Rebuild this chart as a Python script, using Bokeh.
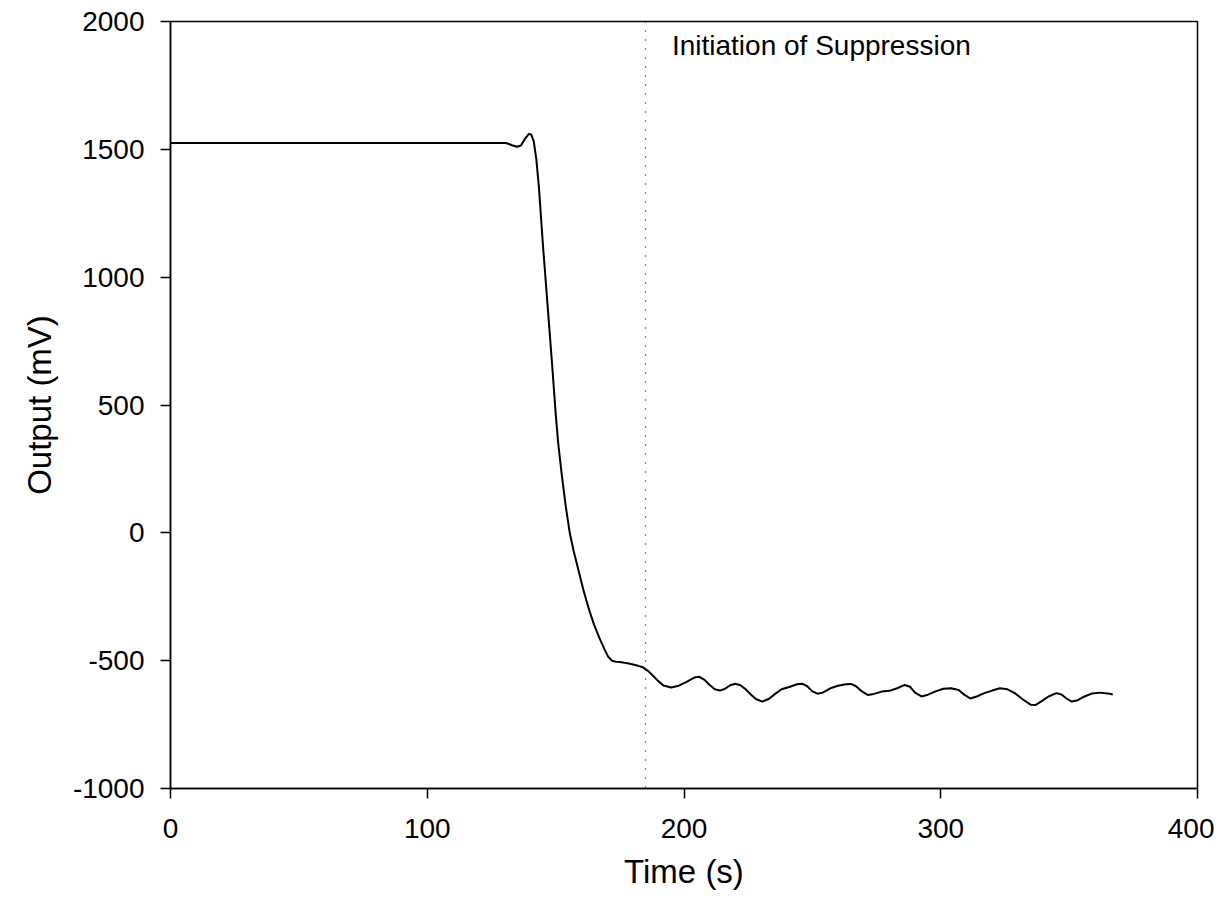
from bokeh.plotting import figure
from bokeh.models import Range1d, FixedTicker, Span, Label, CustomJSTickFormatter
from bokeh.embed import file_html
from bokeh.resources import INLINE

time_s = [0, 40, 80, 120, 130, 131, 133, 135, 136.5, 138, 139.5, 140.5, 141.5, 142.5,
          143.5, 145, 147, 148.5, 150, 151, 152.5, 154, 155.5, 157, 159, 161, 163, 165,
          167, 169, 170.5, 172, 173.5, 175, 178, 181, 184, 186, 188, 190, 192, 195, 198,
          201, 204, 206, 208, 210, 212, 214, 216, 218, 220, 222, 224, 226, 228, 230.5,
          233, 235.5, 238, 241, 244, 246, 248, 250, 252, 254, 257, 260, 263, 265, 267,
          269, 271.5, 274, 277, 280, 283, 286, 288, 290, 292.5, 295, 298, 301, 304, 307,
          309, 311.5, 314, 317, 320, 323, 326, 329, 332, 335, 337, 339, 342, 345, 347,
          349, 351, 353, 356, 359, 362, 365, 367]
output_mv = [1525, 1525, 1525, 1525, 1525, 1524, 1516, 1510, 1515, 1540, 1560, 1558, 1530,
             1460, 1350, 1134, 872, 676, 470, 351, 218, 100, 0, -70, -150, -230, -300,
             -360, -410, -455, -485, -500, -504, -505, -510, -517, -526, -540, -560, -580,
             -597, -605, -598, -583, -566, -563, -575, -595, -612, -617, -610, -596, -590,
             -596, -612, -632, -650, -660, -650, -630, -612, -603, -592, -590, -600, -620,
             -629, -625, -608, -598, -592, -591, -600, -618, -634, -630, -621, -618, -608,
             -595, -602, -625, -640, -633, -620, -610, -608, -615, -632, -648, -640, -627,
             -617, -608, -612, -628, -652, -672, -673, -660, -640, -627, -632, -648, -660,
             -656, -640, -628, -625, -628, -632]

x_ticks = [0, 100, 200, 300, 400]
y_ticks = [-1000, -500, 0, 500, 1000, 1500, 2000]
suppression_t = 185
annotation = "Initiation of Suppression"

FONT = "Liberation Sans"

p = figure(output_backend="svg", toolbar_location=None,
           frame_width=1027, frame_height=767,
           min_border_left=170, min_border_right=17,
           min_border_top=21, min_border_bottom=118,
           x_range=Range1d(0, 400), y_range=Range1d(-1000, 2000))

p.line(time_s, output_mv, line_color="black", line_width=2)

p.add_layout(Span(location=suppression_t, dimension="height",
                  line_color="black", line_width=1.2, line_dash="1 8"))
p.add_layout(Label(x=195.3, y=1906, text=annotation, text_font=FONT,
                   text_font_size="28px", text_baseline="middle", text_align="left",
                   text_color="black"))

p.xgrid.visible = False
p.ygrid.visible = False
p.outline_line_color = "black"
p.outline_line_width = 1.5
p.outline_line_alpha = 1

for ax in (p.xaxis[0], p.yaxis[0]):
    ax.axis_line_width = 1.5
    ax.axis_line_color = "black"
    ax.major_tick_line_width = 1.5
    ax.major_tick_out = 10
    ax.major_tick_in = 0
    ax.minor_tick_line_color = None
    ax.major_label_text_font = FONT
    ax.major_label_text_font_size = "28px"
    ax.major_label_text_color = "black"
    ax.axis_label_text_font = FONT
    ax.axis_label_text_font_size = "33px"
    ax.axis_label_text_font_style = "normal"
    ax.axis_label_text_color = "black"
    ax.formatter = CustomJSTickFormatter(code="return tick.toString();")

p.xaxis[0].ticker = FixedTicker(ticks=x_ticks)
p.yaxis[0].ticker = FixedTicker(ticks=y_ticks)
p.xaxis[0].axis_label = "Time (s)"
p.yaxis[0].axis_label = "Output (mV)"
p.xaxis[0].major_label_standoff = 20
p.yaxis[0].major_label_standoff = 16
p.xaxis[0].axis_label_standoff = 12
p.yaxis[0].axis_label_standoff = 12

open("out.html", "w").write(file_html(p, INLINE))
